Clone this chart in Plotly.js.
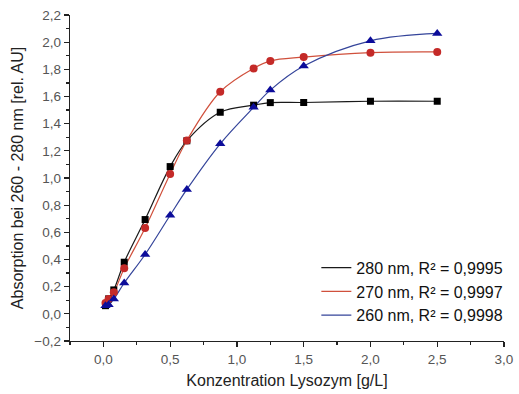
<!DOCTYPE html>
<html>
<head>
<meta charset="utf-8">
<script src="https://cdn.plot.ly/plotly-3.0.1.min.js"></script>
<style>html,body{margin:0;padding:0;background:#fff;}#chart{width:519px;height:394px;}</style>
</head>
<body>
<div id="chart"></div>
<script>
const conc = [0.0156, 0.039, 0.078, 0.156, 0.3125, 0.5, 0.625, 0.875, 1.125, 1.25, 1.5, 2.0, 2.5];
const abs280 = [0.06, 0.11, 0.176, 0.38, 0.694, 1.084, 1.274, 1.484, 1.536, 1.555, 1.556, 1.565, 1.565];
const abs270 = [0.08, 0.11, 0.158, 0.336, 0.632, 1.03, 1.276, 1.635, 1.807, 1.862, 1.89, 1.923, 1.928];
const abs260 = [0.06, 0.067, 0.109, 0.227, 0.437, 0.726, 0.916, 1.252, 1.52, 1.647, 1.824, 2.01, 2.064];
const seriesNames = ["280 nm, R\u00b2 = 0,9995", "270 nm, R\u00b2 = 0,9997", "260 nm, R\u00b2 = 0,9998"];
const xTitle = "Konzentration Lysozym [g/L]";
const yTitle = "Absorption bei 260 - 280 nm [rel. AU]";

const series = [
  {y: abs280, name: seriesNames[0], line: '#1a1a1a', marker: '#000000', symbol: 'square', size: 7},
  {y: abs270, name: seriesNames[1], line: '#d0503c', marker: '#c42a28', symbol: 'circle', size: 8},
  {y: abs260, name: seriesNames[2], line: '#34449a', marker: '#0c0c9a', symbol: 'triangle-up', size: 9}
];
const traces = [];
series.forEach(s => {
  traces.push({x: conc, y: s.y, type: 'scatter', mode: 'lines', name: s.name,
    line: {color: s.line, width: 1.2, shape: 'spline', smoothing: 1}, hoverinfo: 'skip'});
});
series.forEach(s => {
  traces.push({x: conc, y: s.y, type: 'scatter', mode: 'markers', showlegend: false,
    marker: {color: s.marker, symbol: s.symbol, size: s.size}});
});

const layout = {
  width: 519, height: 394,
  margin: {l: 70, r: 11, t: 15, b: 53},
  paper_bgcolor: '#fff', plot_bgcolor: '#fff',
  separators: ',.',
  font: {family: 'Liberation Sans, Arial, sans-serif', color: '#222'},
  showlegend: true,
  legend: {x: 1.01, xanchor: 'right', y: 0.277, yanchor: 'top', bgcolor: 'rgba(0,0,0,0)',
    font: {size: 16, color: '#111'}, tracegroupgap: 0, itemwidth: 30},
  xaxis: {
    range: [-0.25, 3.0], tick0: 0, dtick: 0.5, tickformat: '.1f',
    showgrid: false, zeroline: false, showline: true, linecolor: '#222', linewidth: 1.3,
    ticks: 'outside', ticklen: 5, tickcolor: '#222', tickwidth: 1.3,
    tickfont: {size: 13.5, color: '#555'},
    minor: {dtick: 0.25, tick0: 0, ticks: 'outside', ticklen: 3, tickcolor: '#222', tickwidth: 1.2},
    title: {text: xTitle, font: {size: 16, color: '#222'}, standoff: 9}
  },
  yaxis: {
    range: [-0.2, 2.2], tick0: 0, dtick: 0.2, tickformat: '.1f',
    showgrid: false, zeroline: false, showline: true, linecolor: '#222', linewidth: 1.3,
    ticks: 'outside', ticklen: 5, tickcolor: '#222', tickwidth: 1.3,
    tickfont: {size: 13.5, color: '#555'},
    minor: {dtick: 0.1, tick0: 0, ticks: 'outside', ticklen: 3, tickcolor: '#222', tickwidth: 1.2},
    title: {text: yTitle, font: {size: 16, color: '#222'}, standoff: 6}
  }
};
Plotly.newPlot('chart', traces, layout, {displayModeBar: false, staticPlot: true});
</script>
</body>
</html>
